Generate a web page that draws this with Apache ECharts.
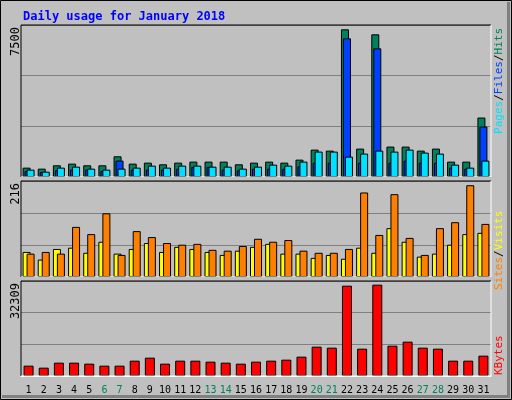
<!DOCTYPE html>
<html><head><meta charset="utf-8">
<script src="https://cdn.jsdelivr.net/npm/echarts@6/dist/echarts.min.js"></script>
<style>html,body{margin:0;padding:0;background:#c0c0c0}#c{width:512px;height:400px}</style>
</head><body><div id="c"></div>
<script>
const days = ['1','2','3','4','5','6','7','8','9','10','11','12','13','14','15','16','17','18','19','20','21','22','23','24','25','26','27','28','29','30','31'];
const weekend = ['6','7','13','14','20','21','27','28'];
const hits  = [475,424,594,679,594,594,1052,679,730,645,730,781,781,781,645,730,781,730,882,1391,1340,7500,1442,7246,1544,1544,1340,1442,781,781,3020];
const files = [305,255,340,373,373,305,832,373,373,373,424,509,509,373,340,424,424,424,543,730,730,7043,730,6534,730,832,730,730,475,424,2562];
const pages = [373,272,475,526,424,373,424,475,577,475,577,577,526,526,424,526,628,577,781,1290,1290,1035,1188,1340,1290,1391,1239,1188,628,475,832];
const sites = [59,41,66,69,57,83,55,66,80,59,71,66,59,52,62,71,78,55,55,45,52,43,69,57,115,83,48,55,76,101,104];
const visits= [55,59,55,118,101,150,52,108,94,80,76,78,64,62,73,90,83,87,62,57,57,66,199,99,195,92,52,115,129,216,125];
const kbytes= [3655,2948,4716,4716,4362,3655,3655,5423,6485,4362,5423,5423,5070,4716,4362,5070,5423,5777,6838,10375,10022,31951,9668,32309,10729,12144,10022,9668,5423,5423,7192];
const topLabels = ['7500','216','32309'];
const scaleMax = [7720,226,33606];

const mono = 'DejaVu Sans Mono';
const grids = [
  {left:21,width:470,top:25,height:152},
  {left:21,width:470,top:181,height:96},
  {left:21,width:470,top:281,height:95}
];
const xAxes = grids.map((g,i)=>({type:'category',gridIndex:i,data:days,
  axisLine:{show:i===2,lineStyle:{color:'#fff',width:1}},axisTick:{show:false},
  axisLabel:{show:i===2,interval:0,fontFamily:mono,fontSize:10,margin:9,
    color:(v)=>weekend.includes(v)?'#00805c':'#000'}}));
const yAxes = grids.map((g,i)=>({type:'value',gridIndex:i,min:0,max:scaleMax[i],interval:scaleMax[i]/3,
  axisLabel:{show:false},axisLine:{show:false},axisTick:{show:false},
  splitLine:{show:true,lineStyle:{color:'#808080',width:1}}}));
const bs = {borderColor:'#000',borderWidth:1};
const series = [
  {type:'bar',xAxisIndex:0,yAxisIndex:0,data:hits,barWidth:8,barGap:'-75%',itemStyle:{color:'#00805c',...bs}},
  {type:'bar',xAxisIndex:0,yAxisIndex:0,data:files,barWidth:8,barGap:'-75%',itemStyle:{color:'#0040ff',...bs}},
  {type:'bar',xAxisIndex:0,yAxisIndex:0,data:pages,barWidth:8,barGap:'-75%',itemStyle:{color:'#00e0ff',...bs}},
  {type:'bar',xAxisIndex:1,yAxisIndex:1,data:sites,barWidth:8,barGap:'-50%',itemStyle:{color:'#ffff00',...bs}},
  {type:'bar',xAxisIndex:1,yAxisIndex:1,data:visits,barWidth:8,barGap:'-50%',itemStyle:{color:'#ff8000',...bs}},
  {type:'bar',xAxisIndex:2,yAxisIndex:2,data:kbytes,barWidth:10,itemStyle:{color:'#ff0000',...bs}}
];
const gfx = [
  {type:'rect',shape:{x:0.5,y:0.5,width:511,height:399},style:{fill:'none',stroke:'#000',lineWidth:1},z:-1},
  {type:'rect',shape:{x:507,y:2,width:3,height:396},style:{fill:'#808080'},z:-1},
  {type:'rect',shape:{x:2,y:395,width:508,height:3},style:{fill:'#808080'},z:-1},
];
grids.forEach((g,i)=>{
  gfx.push({type:'polyline',shape:{points:[[g.left,g.top+g.height],[g.left,g.top],[g.left+g.width,g.top]]},style:{stroke:'#000',fill:'none',lineWidth:1},z:10});
  gfx.push({type:'polyline',shape:{points:[[g.left+g.width,g.top],[g.left+g.width,g.top+g.height],[g.left,g.top+g.height]]},style:{stroke:'#fff',fill:'none',lineWidth:1},z:10});
  gfx.push({type:'text',x:10,y:g.top+2,rotation:Math.PI/2,style:{text:topLabels[i],font:'12px '+mono,fill:'#000',align:'right',verticalAlign:'top'}});
});
function vlegend(y,align,parts){
  const f='11px '+mono;
  return {type:'text',x:494,y:y,rotation:Math.PI/2,style:{text:parts.map(p=>'{'+p[1]+'|'+p[0]+'}').join(''),
    align:align,verticalAlign:'top',font:f,
    rich:{h:{fill:'#00805c',font:f},f:{fill:'#0040ff',font:f},p:{fill:'#00e0ff',font:f},
      s:{fill:'#000',font:f},v:{fill:'#ffff00',font:f},st:{fill:'#ff8000',font:f},k:{fill:'#ff0000',font:f}}}};
}
gfx.push(vlegend(28,'right',[['Pages','p'],['/','s'],['Files','f'],['/','s'],['Hits','h']]));
gfx.push(vlegend(290,'left',[['Sites','st'],['/','s'],['Visits','v']]));
gfx.push(vlegend(375,'left',[['KBytes','k']]));

echarts.init(document.getElementById('c')).setOption({
  animation:false,backgroundColor:'#c0c0c0',
  title:{text:'Daily usage for January 2018',left:18,top:6,textStyle:{color:'#0000ff',fontFamily:mono,fontSize:12,fontWeight:'bold'}},
  grid:grids,xAxis:xAxes,yAxis:yAxes,series:series,graphic:gfx
});
</script></body></html>
